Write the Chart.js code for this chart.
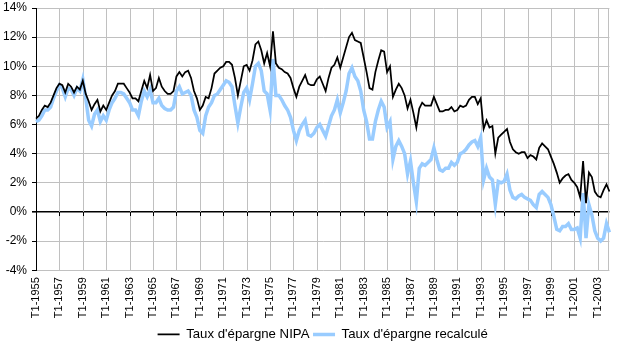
<!DOCTYPE html>
<html>
<head>
<meta charset="utf-8">
<script src="https://cdn.jsdelivr.net/npm/chart.js@4/dist/chart.umd.min.js"></script>
<style>
  html, body { margin: 0; padding: 0; background: #fff; }
  #wrap { width: 618px; height: 347px; }
</style>
</head>
<body>
<div id="wrap"><canvas id="savingsChart" width="618" height="347"></canvas></div>
<script>
// Quarterly series, T1-1955 .. T1-2004 (values in %)
const startYear = 1955;
const seriesNames = ["Taux d'épargne NIPA", "Taux d'épargne recalculé"];

const nipa = [
  6.4, 6.6, 7.0, 7.3,   7.2, 7.5, 8.0, 8.5,   8.8, 8.7, 8.2, 8.8,   8.6, 8.2, 8.6, 8.4,
  9.0, 8.1, 7.6, 7.0,   7.4, 7.7, 6.9, 7.3,   7.0, 7.5, 8.0, 8.3,   8.8, 8.8, 8.8, 8.5,
  8.2, 7.8, 7.8, 7.6,   8.3, 9.0, 8.5, 9.4,   8.3, 8.5, 9.2, 8.6,   8.3, 8.1, 8.1, 8.3,
  9.3, 9.6, 9.3, 9.6,   9.7, 9.2, 8.3, 7.8,   7.0, 7.3, 7.9, 7.8,   8.5, 9.5, 9.7, 9.9,
  10.0, 10.3, 10.3, 10.1, 9.2, 8.0, 9.0, 10.0, 10.1, 9.7, 10.4, 11.5, 11.7, 11.1, 10.2, 10.9,
  10.0, 12.4, 10.2, 9.9, 9.8, 9.6, 9.5, 9.2,  8.5, 7.9, 8.6, 9.0,   9.4, 8.8, 8.7, 8.7,
  9.1, 9.3, 8.8, 8.3,   9.2, 9.9, 10.1, 10.6, 9.9, 10.6, 11.3, 12.0, 12.3, 11.8, 11.7, 11.6,
  10.6, 9.6, 8.5, 8.4,  9.6, 10.4, 11.1, 11.0, 9.6, 10.0, 7.9, 8.4,  8.8, 8.5, 8.0, 7.1,
  7.7, 6.8, 5.8, 7.1,   7.5, 7.3, 7.3, 7.3,   7.9, 7.4, 6.9, 6.9,   7.0, 7.0, 7.2, 6.9,
  7.0, 7.3, 7.2, 7.3,   7.7, 7.9, 7.9, 7.4,   7.8, 5.7, 6.3, 5.8,   5.9, 4.0, 5.1, 5.3,
  5.5, 5.7, 4.8, 4.3,   4.1, 4.0, 4.1, 4.1,   3.7, 3.9, 3.8, 3.6,   4.4, 4.7, 4.5, 4.3,
  3.8, 3.3, 2.7, 2.0,   2.3, 2.5, 2.6, 2.2,   2.0, 1.7, 1.0, 3.5,   0.6, 2.7, 2.4, 1.4,
  1.1, 1.0, 1.5, 1.9,   1.4
];

const recalc = [
  6.2, 6.3, 6.6, 7.0,   7.0, 7.2, 7.8, 8.3,   8.7, 8.5, 7.9, 8.5,   8.4, 8.0, 8.5, 8.3,
  9.1, 7.8, 6.3, 5.9,   6.7, 7.0, 6.2, 6.6,   6.3, 7.0, 7.5, 7.8,   8.2, 8.2, 8.1, 7.8,
  7.5, 7.0, 7.0, 6.6,   7.6, 8.3, 7.9, 8.4,   7.5, 7.5, 7.8, 7.3,   7.1, 7.0, 7.0, 7.2,
  8.3, 8.6, 8.1, 8.2,   8.3, 8.0, 7.0, 6.5,   5.6, 5.4, 6.6, 7.2,   7.5, 8.0, 8.1, 8.4,
  8.7, 9.0, 8.9, 8.6,   7.3, 6.1, 7.2, 8.2,   8.5, 7.7, 8.8, 10.0,  10.2, 9.7, 8.3, 8.1,
  7.0, 10.5, 8.0, 8.0,  7.7, 7.3, 7.0, 6.5,   5.6, 4.9, 5.6, 6.0,   6.3, 5.3, 5.2, 5.4,
  5.8, 6.0, 5.6, 5.2,   5.9, 6.6, 7.0, 7.7,   6.8, 7.5, 8.3, 9.5,   9.9, 9.3, 9.0, 8.3,
  7.0, 6.2, 5.0, 5.0,   6.2, 7.0, 7.6, 7.2,   5.8, 6.2, 3.6, 4.5,   4.9, 4.5, 4.0, 2.6,
  3.5, 2.0, 0.7, 3.0,   3.3, 3.2, 3.4, 3.6,   4.4, 3.6, 2.9, 2.8,   3.0, 3.0, 3.4, 3.2,
  3.4, 4.0, 4.1, 4.3,   4.6, 4.8, 4.9, 4.5,   5.1, 2.2, 3.0, 2.4,   2.2, 0.5, 2.1, 2.0,
  2.1, 2.6, 1.5, 1.0,   0.9, 1.1, 1.2, 1.0,   0.9, 0.8, 0.5, 0.3,   1.2, 1.4, 1.2, 1.0,
  0.5, -0.3, -1.2, -1.3, -1.0, -1.0, -0.8, -1.2, -1.2, -1.1, -1.8, 1.3, -1.8, 0.5, -0.2, -1.3,
  -1.8, -2.0, -1.8, -0.8, -1.4
];

// y axis: -4% .. 14% every 2%
const yMin = -4, yMax = 14, yStep = 2;

// category labels "T1-1955", "T2-1955", ...
const quarters = nipa.map((_, i) => 'T' + (i % 4 + 1) + '-' + (startYear + Math.floor(i / 4)));

const FONT = "'Liberation Sans', Arial, sans-serif";
const GRID = '#c0c0c0';

// vertical gridlines every 2 years, right border, and small ticks under the 0% line
const axisExtras = {
  id: 'axisExtras',
  beforeDatasetsDraw(chart) {
    const { ctx, chartArea, scales: { x, y } } = chart;
    const y0 = Math.round(y.getPixelForValue(0));
    ctx.save();
    ctx.lineWidth = 1;
    ctx.strokeStyle = GRID;
    ctx.beginPath();
    for (let i = 8; i < quarters.length; i += 8) {
      const px = Math.round(x.getPixelForValue(i)) + 0.5;
      ctx.moveTo(px, chartArea.top);
      ctx.lineTo(px, chartArea.bottom);
    }
    const xr = Math.round(chartArea.right) - 0.5;
    ctx.moveTo(xr, chartArea.top);
    ctx.lineTo(xr, chartArea.bottom);
    ctx.stroke();

    ctx.strokeStyle = '#000';
    ctx.beginPath();
    for (let i = 8; i < quarters.length; i += 8) {
      const px = Math.round(x.getPixelForValue(i)) + 0.5;
      ctx.moveTo(px, y0);
      ctx.lineTo(px, y0 + 4);
    }
    ctx.stroke();
    ctx.restore();
  }
};

new Chart(document.getElementById('savingsChart').getContext('2d'), {
  type: 'line',
  data: {
    labels: quarters,
    datasets: [
      {
        label: seriesNames[0],
        data: nipa,
        borderColor: '#000000',
        backgroundColor: '#000000',
        borderWidth: 1.75,
        pointRadius: 0,
        tension: 0
      },
      {
        label: seriesNames[1],
        data: recalc,
        borderColor: '#99ccff',
        backgroundColor: '#99ccff',
        borderWidth: 3.5,
        pointRadius: 0,
        tension: 0
      }
    ]
  },
  options: {
    responsive: false,
    animation: false,
    layout: { padding: { top: 0, right: 4, left: 0, bottom: -4 } },
    scales: {
      x: {
        type: 'category',
        offset: false,
        afterFit: s => { s.height = 54; },
        grid: { display: false, drawTicks: false },
        border: { display: false },
        ticks: {
          autoSkip: false,
          minRotation: 90,
          maxRotation: 90,
          padding: 7,
          color: '#000',
          font: { family: FONT, size: 11 },
          callback: function (v, i) {
            return (i % 8 === 0) ? quarters[i] : null;
          }
        }
      },
      y: {
        min: yMin,
        max: yMax,
        afterFit: s => { s.width = 36; s.paddingTop = 8; s.paddingBottom = 8; },
        grid: {
          color: c => (c.tick && c.tick.value === 0) ? '#000' : GRID,
          lineWidth: c => (c.tick && c.tick.value === 0) ? 1.6 : 1,
          tickLength: 4,
          tickColor: '#000'
        },
        border: { color: '#000', width: 1 },
        ticks: {
          stepSize: yStep,
          padding: 5,
          color: '#000',
          font: { family: FONT, size: 12 },
          callback: v => v + '%'
        }
      }
    },
    plugins: {
      legend: {
        position: 'bottom',
        fullSize: false,
        labels: {
          usePointStyle: true,
          pointStyle: 'line',
          pointStyleWidth: 22,
          boxHeight: 13,
          padding: 3.6,
          color: '#000',
          font: { family: FONT, size: 13.2 }
        }
      },
      tooltip: { enabled: false }
    }
  },
  plugins: [axisExtras]
});
</script>
</body>
</html>
